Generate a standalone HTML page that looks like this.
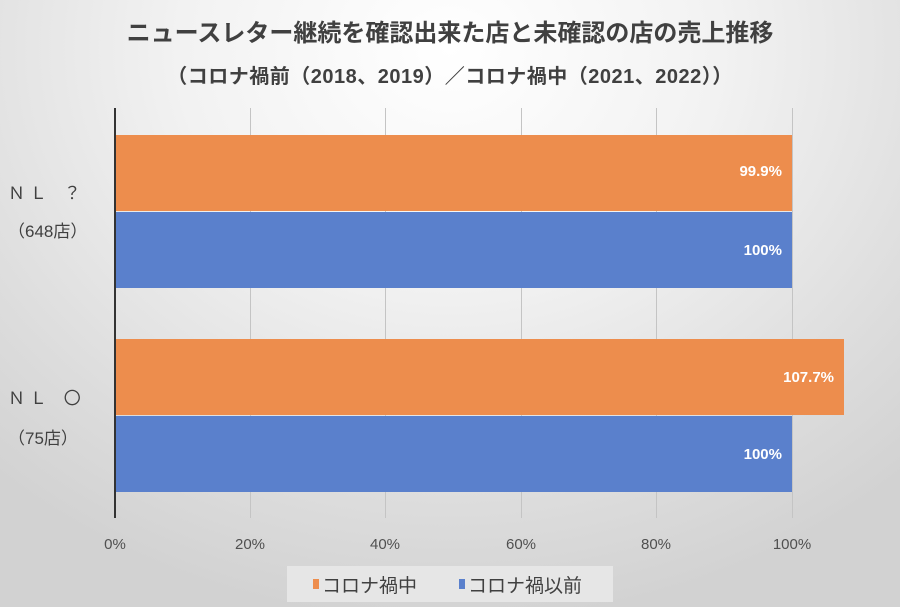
<!DOCTYPE html>
<html><head><meta charset="utf-8"><style>
body{margin:0}
#c{position:relative;width:900px;height:607px;overflow:hidden;font-family:"Liberation Sans","Noto Sans CJK JP",sans-serif;background:radial-gradient(ellipse 75% 95% at 50% 8%,#ffffff 0%,#f2f2f2 40%,#dcdcdc 80%,#d2d2d2 100%)}
.t{position:absolute;left:0;width:900px;text-align:center;color:#404040;font-weight:bold;white-space:nowrap}
.g{position:absolute;top:108px;height:410px;width:1px;background:#c4c4c4}
.b{position:absolute;left:115px;height:76px}
.o{background:#ed8d4d}.bl{background:#5a80cc}
.v{position:absolute;color:#fff;font-weight:bold;font-size:15px;text-align:right}
.x{position:absolute;top:536px;width:60px;text-align:center;font-size:15px;color:#505050}
.y{position:absolute;color:#404040;font-size:17px}
</style></head><body><div id="c">
<div class="t" style="top:13px;font-size:24px">ニュースレター継続を確認出来た店と未確認の店の売上推移</div>
<div class="t" style="top:60px;font-size:20px;letter-spacing:0.5px">（コロナ禍前（2018、2019）／コロナ禍中（2021、2022））</div>
<div class="g" style="left:250px"></div><div class="g" style="left:385px"></div><div class="g" style="left:521px"></div><div class="g" style="left:656px"></div><div class="g" style="left:792px"></div>
<div class="b o" style="top:135px;width:677px"></div>
<div class="b bl" style="top:212px;width:677px"></div>
<div class="b o" style="top:339px;width:729px"></div>
<div class="b bl" style="top:416px;width:677px"></div>
<div class="g" style="left:114px;width:2px;background:#333"></div>
<div class="v" style="left:700px;width:82px;top:163px">99.9%</div>
<div class="v" style="left:700px;width:82px;top:242px">100%</div>
<div class="v" style="left:700px;width:134px;top:369px">107.7%</div>
<div class="v" style="left:700px;width:82px;top:446px">100%</div>
<div class="y" style="left:8px;top:179px">Ｎ Ｌ　？</div>
<div class="y" style="left:8px;top:217px">（648店）</div>
<div class="y" style="left:8px;top:384px">Ｎ Ｌ　〇</div>
<div class="y" style="left:8px;top:424px">（75店）</div>
<div class="x" style="left:85px">0%</div><div class="x" style="left:220px">20%</div><div class="x" style="left:355px">40%</div><div class="x" style="left:491px">60%</div><div class="x" style="left:626px">80%</div><div class="x" style="left:762px">100%</div>
<div style="position:absolute;left:287px;top:566px;width:326px;height:36px;background:#e6e6e6;font-size:19px;color:#404040">
<span style="position:absolute;left:26px;top:13px;width:6px;height:10px;background:#ed8d4d"></span><span style="position:absolute;left:35px;top:5px">コロナ禍中</span>
<span style="position:absolute;left:172px;top:13px;width:6px;height:10px;background:#5a80cc"></span><span style="position:absolute;left:181px;top:5px">コロナ禍以前</span>
</div>
</div></body></html>
